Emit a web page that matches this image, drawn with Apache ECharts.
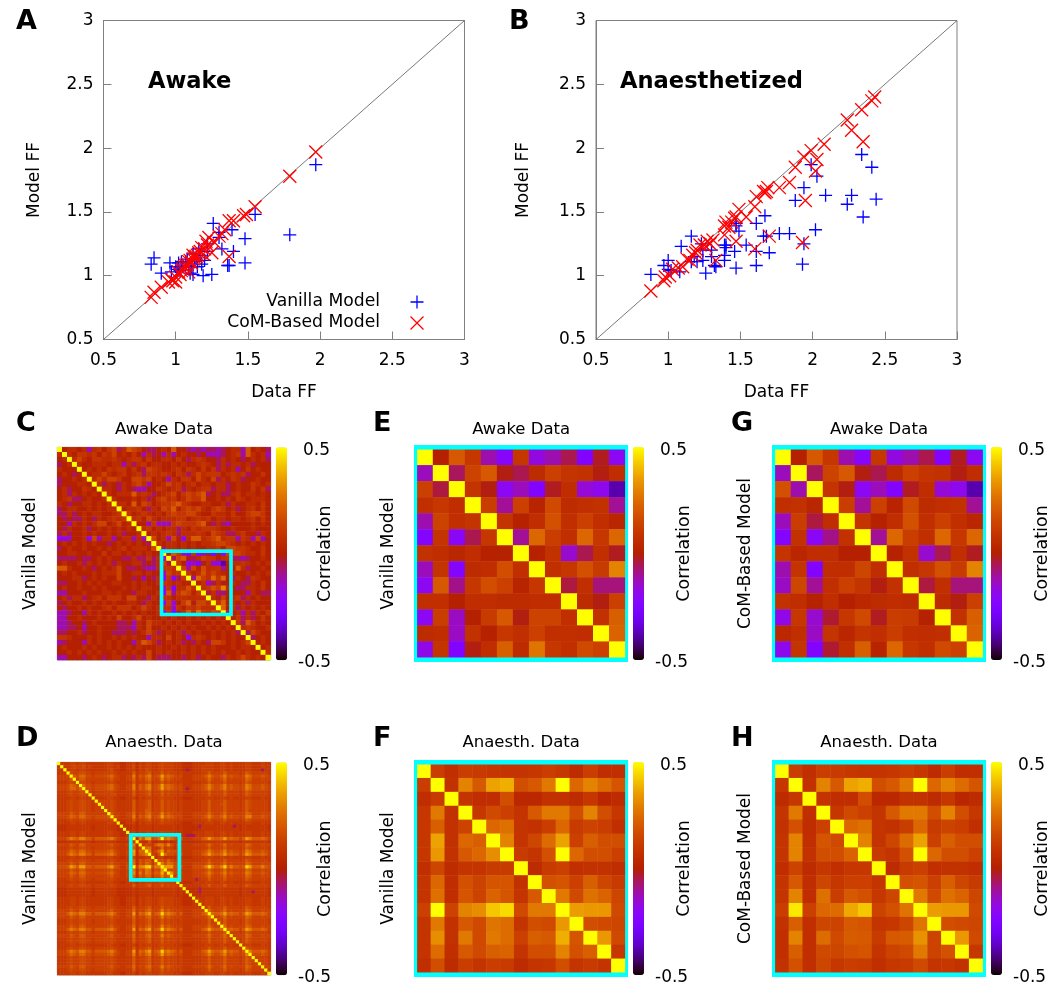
<!DOCTYPE html>
<html><head><meta charset="utf-8">
<style>html,body{margin:0;padding:0;background:#fff}#c{width:1053px;height:983px}</style>
<script src="https://cdn.jsdelivr.net/npm/echarts@6/dist/echarts.min.js"></script>
</head><body><div id="c"></div>
<script>
const DIAGONAL=[[0.5,0.5],[3,3]];
const A_VANILLA=[[1.97,1.87],[1.79,1.32],[1.55,1.48],[1.26,1.41],[1.3,1.34],[1.39,1.36],[1.48,1.29],[1.32,1.21],[1.4,1.19],[1.48,1.1],[1.36,1.08],[1.37,1.08],[0.85,1.14],[0.83,1.09],[0.9,1.02],[0.96,1.1],[1.02,1.1],[1,1.07],[0.97,1.03],[1.1,1.02],[1.12,1.01],[1.19,1],[1.25,1.01],[1.16,1.21],[1.22,1.25],[1.17,1.16],[1.22,1.19],[1.08,1.13],[1.13,1.11],[1.18,1.09],[1.09,1.08],[1.05,1.07],[1.03,1.04],[1.12,1.17],[1.15,1.07],[1.2,1.12],[1.04,1.11],[1.11,1.07],[1.3,1.3],[1.07,1.11],[1.14,1.14],[1.01,1.05]];
const A_COM=[[1.97,1.97],[1.79,1.78],[1.55,1.54],[1.49,1.48],[1.47,1.47],[1.4,1.43],[1.37,1.43],[1.34,1.36],[1.32,1.33],[1.3,1.31],[1.27,1.26],[1.23,1.3],[1.21,1.27],[1.18,1.22],[1.25,1.18],[1.37,1.15],[1.16,1.18],[1.14,1.15],[1.12,1.13],[1.1,1.12],[1.09,1.11],[1.07,1.08],[1.05,1.05],[0.83,0.83],[0.85,0.87],[0.9,0.91],[0.95,0.95],[0.97,0.97],[1,0.99],[1.02,1.03],[1.04,1.04],[1.06,1.07],[1.08,1.09],[1.11,1.1],[1.13,1.14],[1.15,1.16],[1.17,1.19],[1.2,1.21],[1.22,1.24],[1,0.95],[1.09,1.03],[0.98,0.96],[1.03,1.01],[1.12,1.16],[1.19,1.17]];
const B_VANILLA=[[2.34,1.95],[2.41,1.85],[2.44,1.6],[2.35,1.46],[2.27,1.63],[2.24,1.56],[2.09,1.63],[2.03,1.78],[1.99,1.87],[1.94,1.69],[1.88,1.59],[2.02,1.36],[1.94,1.25],[1.93,1.09],[1.84,1.33],[1.77,1.33],[1.68,1.31],[1.66,1.31],[1.67,1.47],[1.61,1.41],[1.7,1.18],[1.61,1.19],[1.61,1.08],[1.47,1.06],[1.54,1.24],[1.46,1.19],[1.47,1.39],[1.49,1.35],[1.47,1.41],[1.4,1.24],[1.4,1.22],[1.39,1.16],[1.39,1.12],[1.33,1.07],[1.32,1.08],[1.26,1.02],[1.16,1.31],[1.09,1.23],[1,1.12],[0.97,1.08],[1,1.05],[0.88,1.01],[1.08,1.03],[1.23,1.25],[1.24,1.2],[1.18,1.15],[1.2,1.11],[1.24,1.12],[1.16,1.11],[1.3,1.15],[1.3,1.2],[1.39,1.24],[1.02,1.04]];
const B_COM=[[2.43,2.4],[2.41,2.37],[2.34,2.3],[2.24,2.22],[2.27,2.14],[2.35,2.05],[2.08,2.03],[2.03,1.91],[1.99,1.98],[1.94,1.93],[1.88,1.85],[2.02,1.82],[1.95,1.59],[1.84,1.73],[1.77,1.69],[1.69,1.69],[1.68,1.66],[1.66,1.66],[1.61,1.62],[1.6,1.54],[1.54,1.46],[1.49,1.52],[1.47,1.46],[1.46,1.45],[1.4,1.42],[1.39,1.39],[1.39,1.32],[1.47,1.27],[1.7,1.31],[1.6,1.21],[1.93,1.26],[1.33,1.12],[1.31,1.28],[1.29,1.25],[1.25,1.24],[1.22,1.24],[1.26,1.23],[1.19,1.18],[1.17,1.16],[1.15,1.12],[1.1,1.07],[1.07,1.06],[1.03,1.05],[1.01,1],[0.98,0.99],[0.97,0.96],[0.88,0.88],[1.42,1.38],[1.44,1.42],[1.67,1.65],[1.2,1.2],[1.27,1.27],[1.13,1.13]];

const E_VANILLA=[
[50,0,20,10,-12,-22,10,-17,-12,-5,-24,-2,-20],
[-13,50,-6,14,20,-1,-5,5,13,9,8,-1,6],
[13,-4,50,9,-1,-20,-13,-24,-2,6,-16,-19,-38],
[7,10,6,50,12,-10,13,2,16,5,7,8,-10],
[-12,14,7,9,50,9,1,6,18,7,13,7,3],
[-23,9,-21,-5,10,50,-10,24,12,7,24,10,24],
[8,6,3,6,1,1,50,1,8,-15,-5,7,-2],
[-13,9,-23,5,6,17,7,50,7,10,18,11,30],
[-20,20,-9,10,17,13,2,10,50,-4,7,-8,-8],
[7,7,0,6,6,5,5,6,6,50,5,-1,13],
[-20,12,-14,0,11,20,-1,14,14,7,50,8,22],
[5,6,-14,8,1,10,7,13,7,7,6,50,23],
[-18,9,-25,-1,6,22,5,27,10,7,16,13,50]];
const G_COM=[
[50,0,20,10,-12,-22,10,-17,-12,-5,-24,-2,-20],
[-13,50,-6,14,20,-1,-5,5,13,9,8,-1,6],
[18,-12,50,9,-1,-20,-13,-24,-2,6,-16,-19,-38],
[7,8,3,50,12,-10,13,2,16,5,7,8,-10],
[-13,12,-4,6,50,9,1,6,18,7,13,7,3],
[-23,8,-21,-9,8,50,-10,24,12,7,24,10,24],
[9,3,6,6,0,0,50,1,8,-15,-5,7,-2],
[-12,9,-24,6,6,15,6,50,7,10,18,11,30],
[-14,15,-10,7,13,9,-1,8,50,-4,7,-8,-8],
[8,6,1,6,0,4,5,6,5,50,5,-1,13],
[-18,10,-15,-3,10,16,-2,12,11,1,50,8,22],
[4,7,-14,9,3,9,7,12,7,6,7,50,23],
[-19,9,-24,-3,7,22,2,24,10,7,16,13,50]];
const F_VANILLA=[
[50,12,7,12,11,10,9,9,10,12,10,5,12,6,7],
[12,50,8,30,20,36,38,17,20,28,50,24,30,25,19],
[6,11,50,9,6,6,17,4,4,8,8,5,10,3,5],
[10,28,8,50,10,16,13,9,20,28,28,17,30,17,10],
[10,22,8,14,50,24,26,9,8,12,24,11,14,12,7],
[10,36,8,24,22,50,30,9,15,25,36,13,22,17,17],
[10,34,8,20,24,32,50,11,9,18,50,24,17,17,13],
[7,15,5,9,9,11,11,50,5,11,13,7,8,8,6],
[9,24,6,18,14,19,19,8,50,18,19,13,22,15,11],
[9,26,6,19,14,23,19,9,20,50,28,16,26,23,15],
[13,50,14,30,32,42,45,16,28,28,50,35,34,34,16],
[9,28,8,20,16,27,25,9,17,16,34,50,17,16,15],
[9,32,8,28,16,28,25,13,22,20,38,19,50,34,16],
[9,25,7,20,16,22,23,9,17,17,30,18,22,50,10],
[7,17,5,12,9,12,11,5,9,10,17,9,11,9,50]];
const H_COM=[
[50,12,7,12,11,10,9,9,10,12,10,5,12,6,7],
[10,50,8,30,20,36,38,17,20,28,50,24,30,25,19],
[5,10,50,9,6,6,17,4,4,8,8,5,10,3,5],
[9,28,7,50,10,16,13,9,20,28,28,17,30,17,10],
[8,18,6,13,50,24,26,9,8,12,24,11,14,12,7],
[9,30,7,19,16,50,30,9,15,25,36,13,22,17,17],
[9,30,8,17,17,23,50,11,9,18,50,24,17,17,13],
[6,14,5,10,7,10,10,50,5,11,13,7,8,8,6],
[9,20,6,15,10,13,13,9,50,18,19,13,22,15,11],
[9,30,6,26,12,20,18,10,15,50,28,16,26,23,15],
[12,47,13,24,25,37,42,14,18,27,50,35,34,34,16],
[8,22,7,15,14,20,19,9,10,15,27,50,17,16,15],
[7,30,7,25,16,21,20,11,20,21,33,14,50,34,16],
[7,22,7,16,15,18,19,9,14,16,28,14,18,50,10],
[8,18,7,15,10,12,11,7,10,11,16,9,10,8,50]];

const C_LEVELS=[-0.25,-0.18,-0.12,-0.06,0.0,0.05,0.09,0.14,0.2,0.3];
const C_ROWS=[
"5455452564 6735876433 4548443232 3323455284543",
"5454665646 5745464253 4252454434 2223456285452",
"4545754665 5654566464 4554643565 4435454345453",
"3454544555 4552535645 5445454456 5435355453444",
"5444545454 6566464376 5445646546 4635452464544",
"4543444557 5456456366 5654653575 6664565634464",
"3445454575 7764477674 5425466475 4735465344544",
"3444554553 5435467524 4575645645 5455345446545",
"4534465445 5435432244 6545635456 6355345446463",
"4535454544 5455585653 4567467678 3453356455454",
"4563345445 4544454534 6756457668 4454546545554",
"5434455454 5455484764 5667865445 5445354455464",
"3455445454 5564556435 4768467675 4676453456464",
"3353454554 4565645654 5467667754 4655464467764",
"4343354354 5656456475 4555664565 6455455456464",
"4425454577 4574564426 2226766678 4353244445454",
"4354453454 5454545564 5455354656 6654454445444",
"3534454544 5453445445 4565355565 4765335644354",
"1124451725 5245525257 4527415885 6785662652724",
"4545454544 3454545435 5455454545 5677654545454",
"3454454454 5456455547 5355454544 5564776654464",
"4455445446 4554545454 4555466454 4554777655464",
"3333433454 5443353363 5454455445 4544633234454",
"4544535454 5354455343 5454554544 4544455654545",
"8854454345 4574334322 5454545454 5445448534454",
"4545444545 5574455454 4554545445 5455454454545",
"4445534545 4474434243 5454544545 4544435436544",
"3344545454 4554454544 5445454454 5445454335464",
"4544544545 4445454554 4545445545 4544543355464",
"2244454445 5454435544 5445454545 4545444425433",
"4535534564 6664774435 4554545454 5454456354544",
"3454454545 4544554354 4545454445 4545454535444",
"4344545445 6466645754 5454545544 5445453545454",
"2234425454 4545454544 5445454545 4543345253546",
"2244544454 5474457454 4545445454 5454446353464",
"2234434544 4433425475 5454545445 4545456386454",
"2233424454 4433325474 4545454544 5454543565445",
"3344534454 4333434575 3454535454 4545453537544",
"6654445454 4545454425 5474541565 4545454453454",
"2344425454 5454425875 3454534354 3776454575454",
"4544454544 5454545444 5445454545 4544454554545",
"4454545454 4545454474 5454454545 4545445454475",
"2244434543 4553435374 3334434534 5443545754544"];

const D_LEVELS=[-0.05,0.06,0.1,0.13,0.16,0.2,0.24,0.29,0.35,0.44];
const D_ROWS=[
"2222332332 2222223322 1122313233 2234333222 1112222333 2233232222 33222322",
"2222343342 3222223323 1122413233 2234333222 1112223333 2233232222 33222322",
"2222332332 2222223422 1122313243 2234333222 1012223333 2233232222 33222022",
"2223433443 3233333432 2222523345 2335343323 2222223353 3335333323 54333332",
"3334654664 4344445643 2233725467 3458565434 2223334575 4457454434 76444543",
"3333543553 3333334533 2233624356 3347454333 2223333464 3346343333 65333433",
"2223433443 3233333432 2222523345 2335343323 2222223353 3335333323 54333332",
"3334654664 4344445643 2233725467 3458565434 2223334575 4457454434 76444543",
"3334664664 4344445643 2233725467 3458565434 2023334575 4457454434 76444543",
"2223433443 3233333432 2222523345 2335343323 2122223353 3335333323 54333332",
"2223433443 3233333442 2222523345 2335343323 2222223353 3335333323 54333332",
"2222332332 2222223322 1122313233 2234333222 1112222333 2233232222 33222322",
"2223433443 3233333432 2222523345 2335343323 2222223353 3335333323 54333332",
"2223433443 3233333432 2222523345 2335343323 2222223353 3345333323 54333332",
"2223433443 3233333432 2222523345 2335343323 2222223353 3335333323 54333332",
"2223433443 3233333432 2222523355 2335343323 2222223353 3335333323 53333332",
"3333543553 3333334533 2233624356 3347454333 2223333464 3346343333 65333433",
"3334654664 4344445643 2233725467 3458565434 2223334575 4457454434 77444543",
"2223433443 3233333432 2222523345 2335343323 2222223353 3335333323 54333332",
"2222332332 2222223322 1122313233 2234333222 1112222333 2233232222 33222322",
"1112222222 2122222221 1111212222 1222222212 1111102222 2222220212 22222221",
"1112222222 2122222221 1111212222 1222222212 1111112222 2222222212 22222221",
"2222332332 2222223322 1122313233 2234333222 1112222333 2233232222 33222322",
"2222332332 2222223322 1122313233 2234333222 1000222333 2233232222 33222322",
"3335765775 5355556753 2233826578 3569676535 2223335686 5568565535 87555653",
"1112222222 2122222221 1111212222 1222222212 1111112222 2222222212 22222221",
"3333543553 3333334533 2233624356 3347454333 2223333464 3346343333 65333433",
"2223433443 3233333432 2222523345 2335343323 2222223353 3335333323 54333332",
"3334654664 4344445643 2233725467 3458565434 2223334575 4457454434 76444543",
"3335765775 5355556753 2233826578 3569676535 2223335686 5568565535 87555653",
"2222332332 2222223322 1122313233 2234333222 1112222333 2233232222 33222322",
"2223433443 3233333432 2222523345 2335343323 2222223353 3335333323 54333332",
"3333543553 3333334533 2233624356 3347454333 2223333464 3346343333 65333433",
"4445875885 5455557854 2244927589 4579787545 2224445797 5579575545 98555754",
"3333543553 3333334533 2233624356 3347454333 2223333464 3346343333 65333433",
"3334654664 4344445643 2233725467 3458565434 2223334575 4457454434 76444543",
"3333543553 3333334533 2233624356 3347454333 2223333464 3346343333 65333433",
"2223433443 3233333432 2222523345 2335343323 2222023353 3335333323 54333332",
"2222332332 2222223322 1122313233 2234333222 1112222333 2233232222 33222322",
"2223433443 3233333432 2222523345 2335343323 2222223353 3335333323 54333332",
"1112222222 2122222221 1111212222 1222222212 1111102222 2222222212 22222221",
"1112222222 2122222221 1111212222 1222222212 1111102222 2222222212 22022221",
"1112222222 2122222221 1111212222 1222222212 1111112222 2222222212 22222221",
"2222332332 2222223322 1122313233 2234333222 1112222333 2233232222 33222322",
"2222332332 2222223322 1122313233 2234333222 1112222333 2233232222 33222322",
"2222332332 2222223322 1122313233 2234333222 1112222333 2233232222 33222322",
"2223433443 3233333432 2222523345 2335343323 2222223353 3335333323 54333332",
"3333543553 3333334533 2233624356 3347454333 2223333464 3346343333 65333433",
"3335765775 5355556753 2233826578 3569676535 2223335686 5568565535 87555653",
"3333543553 3333334533 2233624356 3347454333 2223333464 3346343333 65333433",
"2223433443 3233333432 2222523345 2335343323 2222223353 3335333323 54333332",
"2223433443 3233333432 2222523345 2335343323 2222223353 3335333323 54333332",
"3333543553 3333334533 2233624356 3347454333 2223333464 3346343333 65333433",
"3335765775 5355556753 2233826578 3569676535 2223335686 5568565535 87555653",
"2223433443 3233333432 2222523345 2335343323 2222223353 3335333323 54333332",
"3333543553 3333334533 2233624356 3347454333 2223333464 3346343333 65333433",
"2223433443 3233333432 2222523345 2335343323 2222223353 3335333323 54333332",
"2223433443 3233333432 2222523345 2335343323 2222223353 3335333323 54333332",
"2222332332 2222223322 1122313233 2234333222 1112222333 2233232222 33222322",
"2223433443 3233333432 2222523345 2335343323 2222223353 3335333323 54333332",
"3335765775 5355556753 2233826578 3569676535 2223335686 5568565535 87555653",
"3334654664 4344445643 2233725467 3458565434 2223334575 4457454434 76444543",
"2223433443 3233333432 2222523345 2335343323 2222223353 3335333323 54333332",
"2223433443 3233333432 2222523345 2335343323 2222223353 3335333323 54333332",
"2223433443 3233333432 2222523345 2335343323 2222223353 3335333323 54333332",
"3333543553 3333334533 2233624356 3347454333 2223333464 3346343333 65333433",
"2223433443 3233333432 2222523345 2335343323 2222223353 3335333323 54333332",
"2222332332 2222223322 1122313233 2234333222 1112222333 2233232222 33222322"];

const C_BLOCK_START=21, D_BLOCK_START=23;
const C_BOX=[[21,35],[21,33.8]], D_BOX=[[23.4,38.9],[23.2,37.6]], E_BOX=[[-0.13,13.13],[-0.13,13.13]], F_BOX=[[-0.15,15.15],[-0.15,15.15]];

function parse(rows,levels,n){return rows.map(r=>{const s=r.replace(/ /g,'').padEnd(n,'4').slice(0,n);return Array.from(s,c=>levels[+c]);});}
function scale(m){return m.map(r=>r.map(v=>v/100));}
function withBlock(m,b,s){const o=m.map(r=>r.slice());o.forEach((r,i)=>r[i]=0.5);b.forEach((r,i)=>r.forEach((v,j)=>{o[s+i][s+j]=v;}));return o;}
const E=scale(E_VANILLA),G=scale(G_COM),F=scale(F_VANILLA),H=scale(H_COM);
const C=withBlock(parse(C_ROWS,C_LEVELS,43),E,C_BLOCK_START);
const D=withBlock(parse(D_ROWS,D_LEVELS,68),F,D_BLOCK_START);

// gnuplot rgbformulae 7,5,15 palette
const PALETTE=[];for(let i=0;i<=128;i++){const x=i/128,c=v=>Math.round(255*Math.max(0,Math.min(1,v)));PALETTE.push(`rgb(${c(Math.sqrt(x))},${c(x*x*x)},${c(Math.sin(2*Math.PI*x))})`);}

const FONT='"DejaVu Sans"',GREY='#808080';
const PLUS='path://M0 -10L0 10M-10 0L10 0',CROSS='path://M-10 -10L10 10M-10 10L10 -10';
const opt={animation:false,backgroundColor:'#fff',textStyle:{fontFamily:FONT,color:'#000'},grid:[],xAxis:[],yAxis:[],series:[],visualMap:[],graphic:[]};
const txt=(t,x,y,size,w,extra)=>opt.graphic.push({type:'text',left:x,top:y,silent:true,style:Object.assign({text:t,font:`${w||'normal'} ${size}px ${FONT}`,fill:'#000'},extra||{})});

function scatterPanel(l,van,com){
  const g=opt.grid.length;
  opt.grid.push({left:l,top:20.5,width:361,height:319,show:true,borderColor:GREY,borderWidth:1,backgroundColor:'transparent'});
  const ax=(extra,lab)=>Object.assign({type:'value',gridIndex:g,min:0.5,max:3,interval:0.5,splitLine:{show:false},axisLine:{onZero:false,lineStyle:{color:GREY}},axisTick:{inside:true,length:8,lineStyle:{color:GREY}},axisLabel:Object.assign({color:'#000',fontSize:17,fontFamily:FONT},lab),nameLocation:'middle',nameTextStyle:{color:'#000',fontSize:17,fontFamily:FONT}},extra);
  const xi=opt.xAxis.length,yi=opt.yAxis.length;
  opt.xAxis.push(ax({name:'Data FF',nameGap:45},{margin:13}));
  opt.yAxis.push(ax({name:'Model FF',nameGap:l<300?60:64},{margin:10,padding:[4,0,0,0]}));
  opt.series.push({type:'line',xAxisIndex:xi,yAxisIndex:yi,data:DIAGONAL,symbol:'none',silent:true,lineStyle:{color:'#555',width:0.8},z:1});
  const sc=(name,data,sym,col)=>({name,type:'scatter',xAxisIndex:xi,yAxisIndex:yi,data,symbol:sym,symbolSize:13,symbolKeepAspect:true,silent:true,itemStyle:{color:'none',borderColor:col,borderWidth:1.3,opacity:1},z:col==='#ff0000'?3:2});
  opt.series.push(sc('Vanilla Model',van,PLUS,'#0000ff'),sc('CoM-Based Model',com,CROSS,'#ff0000'));
}
function heatPanel(l,t,w,h,mat,box,title,ylab,cbLeft,lineW,corrGap,titleGap,yGap){
  const n=mat.length,g=opt.grid.length,cats=mat.map((_,i)=>String(i));
  opt.grid.push({left:l,top:t,width:w,height:h,show:true,borderColor:'#a0a0a0',borderWidth:1,backgroundColor:'transparent'});
  const off={axisLine:{show:false},axisTick:{show:false},axisLabel:{show:false},splitLine:{show:false},splitArea:{show:false},nameLocation:'middle'};
  const ns=s=>({nameTextStyle:{color:'#000',fontSize:s,fontFamily:FONT}});
  const xi=opt.xAxis.length,yi=opt.yAxis.length;
  opt.xAxis.push(Object.assign({type:'category',gridIndex:g,data:cats,position:'top',name:title,nameGap:titleGap},off,ns(16.5)));
  opt.yAxis.push(Object.assign({type:'category',gridIndex:g,data:cats,inverse:true,name:ylab,nameGap:yGap,nameRotate:90},off,ns(17)));
  opt.xAxis.push(Object.assign({type:'value',gridIndex:g,min:0,max:n,position:'bottom'},off));
  opt.yAxis.push(Object.assign({type:'value',gridIndex:g,min:0,max:n,inverse:true,position:'right',name:'Correlation',nameGap:corrGap,nameRotate:90},off,ns(17.5)));
  const si=opt.series.length,cells=[];
  mat.forEach((r,i)=>r.forEach((v,j)=>cells.push([j,i,v])));
  opt.series.push({type:'heatmap',xAxisIndex:xi,yAxisIndex:yi,data:cells,progressive:0,silent:true,z:2});
  const [bx,by]=box;
  opt.series.push({type:'line',xAxisIndex:xi+1,yAxisIndex:yi+1,clip:false,symbol:'none',silent:true,z:5,lineStyle:{color:'#00ffff',width:lineW,join:'miter',cap:'square'},data:[[bx[0],by[0]],[bx[1],by[0]],[bx[1],by[1]],[bx[0],by[1]],[bx[0],by[0]]]});
  const bt=l<100?t:t-2.3;
  opt.visualMap.push({type:'continuous',seriesIndex:si,min:-0.5,max:0.5,left:cbLeft,top:bt,itemWidth:11,itemHeight:213,padding:0,calculable:false,hoverLink:false,inRange:{color:PALETTE},text:null,showLabel:false,borderWidth:0,dimension:2});
  txt('0.5',cbLeft+27,bt-5,17);
  txt('-0.5',cbLeft+22,bt+207,17);
}
scatterPanel(103.5,A_VANILLA,A_COM);
scatterPanel(596,B_VANILLA,B_COM);
heatPanel(57.3,447.3,213.4,212.7,C,C_BOX,'Awake Data','Vanilla Model',276,3.7,46,9,18);
heatPanel(417,449.3,208.3,208.4,E,E_BOX,'Awake Data','Vanilla Model',633,4.4,50,11,20);
heatPanel(775,449.3,208,208.4,G,E_BOX,'Awake Data','CoM-Based Model',991,4.4,50,11,21);
heatPanel(57.3,762.3,213.4,212.7,D,D_BOX,'Anaesth. Data','Vanilla Model',276,3.7,46,11,18);
heatPanel(417,764.3,208.3,208.4,F,F_BOX,'Anaesth. Data','Vanilla Model',633,4.4,50,13,20);
heatPanel(775,764.3,208,208.4,H,F_BOX,'Anaesth. Data','CoM-Based Model',991,4.4,50,13,21);
opt.legend={data:['Vanilla Model','CoM-Based Model'],orient:'vertical',align:'right',right:627,top:293,itemWidth:64,itemHeight:13,itemGap:3,padding:0,selectedMode:false,itemStyle:{borderWidth:1.3},textStyle:{fontSize:17.2,fontFamily:FONT,color:'#000'}};
[['A',16,8],['B',509,8],['C',16,410],['E',373,410],['G',731,410],['D',16,725],['F',373,725],['H',731,725]].forEach(p=>txt(p[0],p[1],p[2],27,'bold'));
txt('Awake',148,71,22.6,'bold');
txt('Anaesthetized',620,71,22.6,'bold');
const chart=echarts.init(document.getElementById('c'),null,{renderer:'canvas'});
chart.setOption(opt);
</script></body></html>
